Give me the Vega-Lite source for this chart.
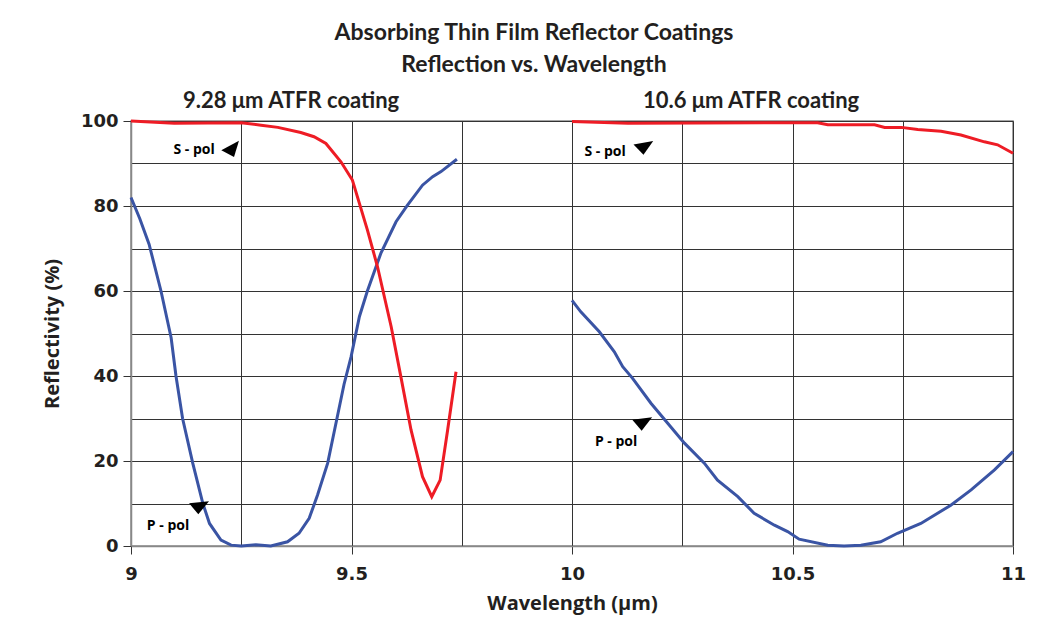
{
  "$schema": "https://vega.github.io/schema/vega-lite/v6.json",
  "width": 882,
  "height": 425,
  "padding": {"left": 42, "top": 22, "right": 28, "bottom": 10},
  "background": "white",
  "title": {
    "text": ["Absorbing Thin Film Reflector Coatings", "Reflection vs. Wavelength"],
    "font": "Lato", "fontSize": 23, "fontWeight": "bold", "lineHeight": 32,
    "anchor": "middle", "frame": "bounds", "color": "#231f20", "offset": 13
  },
  "config": {
    "view": {"stroke": "#888888", "strokeWidth": 1.5},
    "axis": {
      "labelFont": "DejaVu Sans", "labelFontWeight": "bold", "labelFontSize": 18, "labelColor": "#231f20",
      "titleFont": "Open Sans", "titleFontWeight": "bold", "titleFontSize": 20, "titleColor": "#231f20",
      "gridColor": "#333333", "gridWidth": 1, "gridOpacity": 1,
      "domainColor": "#888888", "domainWidth": 1.5,
      "tickColor": "#333333", "tickSize": 8, "tickWidth": 1
    }
  },
  "datasets": {
    "curves": [
      {"seg": "P1", "pol": "P-pol", "wl": 9.000, "r": 82},
      {"seg": "P1", "pol": "P-pol", "wl": 9.020, "r": 77},
      {"seg": "P1", "pol": "P-pol", "wl": 9.041, "r": 71},
      {"seg": "P1", "pol": "P-pol", "wl": 9.068, "r": 60},
      {"seg": "P1", "pol": "P-pol", "wl": 9.091, "r": 49},
      {"seg": "P1", "pol": "P-pol", "wl": 9.102, "r": 40},
      {"seg": "P1", "pol": "P-pol", "wl": 9.117, "r": 30},
      {"seg": "P1", "pol": "P-pol", "wl": 9.140, "r": 19.5},
      {"seg": "P1", "pol": "P-pol", "wl": 9.163, "r": 10},
      {"seg": "P1", "pol": "P-pol", "wl": 9.178, "r": 5.3},
      {"seg": "P1", "pol": "P-pol", "wl": 9.204, "r": 1.4},
      {"seg": "P1", "pol": "P-pol", "wl": 9.227, "r": 0.2},
      {"seg": "P1", "pol": "P-pol", "wl": 9.250, "r": 0},
      {"seg": "P1", "pol": "P-pol", "wl": 9.283, "r": 0.3},
      {"seg": "P1", "pol": "P-pol", "wl": 9.317, "r": 0},
      {"seg": "P1", "pol": "P-pol", "wl": 9.355, "r": 1},
      {"seg": "P1", "pol": "P-pol", "wl": 9.381, "r": 3},
      {"seg": "P1", "pol": "P-pol", "wl": 9.404, "r": 6.5},
      {"seg": "P1", "pol": "P-pol", "wl": 9.423, "r": 12},
      {"seg": "P1", "pol": "P-pol", "wl": 9.446, "r": 19.5},
      {"seg": "P1", "pol": "P-pol", "wl": 9.461, "r": 27},
      {"seg": "P1", "pol": "P-pol", "wl": 9.483, "r": 38},
      {"seg": "P1", "pol": "P-pol", "wl": 9.499, "r": 44.5},
      {"seg": "P1", "pol": "P-pol", "wl": 9.518, "r": 54},
      {"seg": "P1", "pol": "P-pol", "wl": 9.536, "r": 60},
      {"seg": "P1", "pol": "P-pol", "wl": 9.567, "r": 69},
      {"seg": "P1", "pol": "P-pol", "wl": 9.601, "r": 76.3},
      {"seg": "P1", "pol": "P-pol", "wl": 9.627, "r": 80.2},
      {"seg": "P1", "pol": "P-pol", "wl": 9.661, "r": 84.9},
      {"seg": "P1", "pol": "P-pol", "wl": 9.684, "r": 86.9},
      {"seg": "P1", "pol": "P-pol", "wl": 9.703, "r": 88.1},
      {"seg": "P1", "pol": "P-pol", "wl": 9.739, "r": 91},
      {"seg": "S1", "pol": "S-pol", "wl": 9.000, "r": 100},
      {"seg": "S1", "pol": "S-pol", "wl": 9.098, "r": 99.5},
      {"seg": "S1", "pol": "S-pol", "wl": 9.250, "r": 99.6},
      {"seg": "S1", "pol": "S-pol", "wl": 9.295, "r": 99},
      {"seg": "S1", "pol": "S-pol", "wl": 9.333, "r": 98.5},
      {"seg": "S1", "pol": "S-pol", "wl": 9.385, "r": 97.3},
      {"seg": "S1", "pol": "S-pol", "wl": 9.415, "r": 96.3},
      {"seg": "S1", "pol": "S-pol", "wl": 9.442, "r": 94.7},
      {"seg": "S1", "pol": "S-pol", "wl": 9.476, "r": 90.4},
      {"seg": "S1", "pol": "S-pol", "wl": 9.502, "r": 86.1},
      {"seg": "S1", "pol": "S-pol", "wl": 9.536, "r": 74.4},
      {"seg": "S1", "pol": "S-pol", "wl": 9.559, "r": 65.7},
      {"seg": "S1", "pol": "S-pol", "wl": 9.590, "r": 51.6},
      {"seg": "S1", "pol": "S-pol", "wl": 9.612, "r": 39.8},
      {"seg": "S1", "pol": "S-pol", "wl": 9.635, "r": 27.3},
      {"seg": "S1", "pol": "S-pol", "wl": 9.661, "r": 16.3},
      {"seg": "S1", "pol": "S-pol", "wl": 9.682, "r": 11.6},
      {"seg": "S1", "pol": "S-pol", "wl": 9.701, "r": 15.5},
      {"seg": "S1", "pol": "S-pol", "wl": 9.718, "r": 27.3},
      {"seg": "S1", "pol": "S-pol", "wl": 9.737, "r": 41},
      {"seg": "S2", "pol": "S-pol", "wl": 10.000, "r": 99.9},
      {"seg": "S2", "pol": "S-pol", "wl": 10.127, "r": 99.5},
      {"seg": "S2", "pol": "S-pol", "wl": 10.557, "r": 99.6},
      {"seg": "S2", "pol": "S-pol", "wl": 10.580, "r": 99.1},
      {"seg": "S2", "pol": "S-pol", "wl": 10.686, "r": 99.1},
      {"seg": "S2", "pol": "S-pol", "wl": 10.709, "r": 98.5},
      {"seg": "S2", "pol": "S-pol", "wl": 10.747, "r": 98.5},
      {"seg": "S2", "pol": "S-pol", "wl": 10.784, "r": 98},
      {"seg": "S2", "pol": "S-pol", "wl": 10.837, "r": 97.6},
      {"seg": "S2", "pol": "S-pol", "wl": 10.882, "r": 96.7},
      {"seg": "S2", "pol": "S-pol", "wl": 10.935, "r": 95.1},
      {"seg": "S2", "pol": "S-pol", "wl": 10.965, "r": 94.4},
      {"seg": "S2", "pol": "S-pol", "wl": 11.000, "r": 92.4},
      {"seg": "P2", "pol": "P-pol", "wl": 10.000, "r": 57.8},
      {"seg": "P2", "pol": "P-pol", "wl": 10.020, "r": 55.1},
      {"seg": "P2", "pol": "P-pol", "wl": 10.062, "r": 50.4},
      {"seg": "P2", "pol": "P-pol", "wl": 10.096, "r": 45.7},
      {"seg": "P2", "pol": "P-pol", "wl": 10.115, "r": 42.2},
      {"seg": "P2", "pol": "P-pol", "wl": 10.137, "r": 39.5},
      {"seg": "P2", "pol": "P-pol", "wl": 10.179, "r": 33.6},
      {"seg": "P2", "pol": "P-pol", "wl": 10.217, "r": 28.9},
      {"seg": "P2", "pol": "P-pol", "wl": 10.255, "r": 24.2},
      {"seg": "P2", "pol": "P-pol", "wl": 10.300, "r": 19.5},
      {"seg": "P2", "pol": "P-pol", "wl": 10.330, "r": 15.5},
      {"seg": "P2", "pol": "P-pol", "wl": 10.376, "r": 11.6},
      {"seg": "P2", "pol": "P-pol", "wl": 10.413, "r": 7.7},
      {"seg": "P2", "pol": "P-pol", "wl": 10.459, "r": 4.9},
      {"seg": "P2", "pol": "P-pol", "wl": 10.489, "r": 3.4},
      {"seg": "P2", "pol": "P-pol", "wl": 10.515, "r": 1.6},
      {"seg": "P2", "pol": "P-pol", "wl": 10.580, "r": 0.2},
      {"seg": "P2", "pol": "P-pol", "wl": 10.617, "r": 0},
      {"seg": "P2", "pol": "P-pol", "wl": 10.655, "r": 0.2},
      {"seg": "P2", "pol": "P-pol", "wl": 10.700, "r": 1},
      {"seg": "P2", "pol": "P-pol", "wl": 10.738, "r": 3},
      {"seg": "P2", "pol": "P-pol", "wl": 10.791, "r": 5.3},
      {"seg": "P2", "pol": "P-pol", "wl": 10.859, "r": 9.6},
      {"seg": "P2", "pol": "P-pol", "wl": 10.905, "r": 13.2},
      {"seg": "P2", "pol": "P-pol", "wl": 10.958, "r": 17.9},
      {"seg": "P2", "pol": "P-pol", "wl": 11.000, "r": 22.2}
    ],
    "notes": [
      {"wl": 9.143, "r": 93.2, "text": "S - pol"},
      {"wl": 9.084, "r": 4.7, "text": "P - pol"},
      {"wl": 10.075, "r": 92.8, "text": "S - pol"},
      {"wl": 10.100, "r": 24.4, "text": "P - pol"}
    ],
    "heads": [
      {"wl": 9.228, "r": 93.6, "angle": -28},
      {"wl": 9.155, "r": 9.6, "angle": -6},
      {"wl": 10.163, "r": 94.2, "angle": -10},
      {"wl": 10.160, "r": 29.3, "angle": -7}
    ],
    "subtitles": [
      {"wl": 9.363, "r": 104.6, "text": "9.28 μm ATFR coating"},
      {"wl": 10.406, "r": 104.6, "text": "10.6 μm ATFR coating"}
    ]
  },
  "layer": [
    {
      "data": {"name": "curves"},
      "mark": {"type": "line", "strokeWidth": 3, "clip": false},
      "encoding": {
        "x": {
          "field": "wl", "type": "quantitative",
          "scale": {"domain": [9, 11], "nice": false, "zero": false},
          "axis": {
            "title": "Wavelength (μm)",
            "values": [9, 9.25, 9.5, 9.75, 10, 10.25, 10.5, 10.75, 11],
            "labelExpr": "(datum.value * 2) % 1 === 0 ? format(datum.value, '~g') : ''",
            "tickOpacity": {"condition": {"test": "(datum.value * 2) % 1 === 0", "value": 1}, "value": 0},
            "labelPadding": 11, "titlePadding": 10, "labelFlush": false
          }
        },
        "y": {
          "field": "r", "type": "quantitative",
          "scale": {"domain": [0, 100], "nice": false},
          "axis": {
            "title": "Reflectivity (%)",
            "values": [0, 10, 20, 30, 40, 50, 60, 70, 80, 90, 100],
            "labelExpr": "datum.value % 20 === 0 ? datum.label : ''",
            "tickOpacity": {"condition": {"test": "datum.value % 20 === 0", "value": 1}, "value": 0},
            "labelPadding": 5, "titlePadding": 18
          }
        },
        "color": {
          "field": "pol", "type": "nominal",
          "scale": {"domain": ["S-pol", "P-pol"], "range": ["#ee1c25", "#3a54a4"]},
          "legend": null
        },
        "detail": {"field": "seg"},
        "order": {"field": "wl", "type": "quantitative"}
      }
    },
    {
      "data": {"name": "notes"},
      "mark": {"type": "text", "font": "Open Sans", "fontWeight": "bold", "fontSize": 14, "color": "#000000", "align": "center", "baseline": "middle"},
      "encoding": {
        "x": {"field": "wl", "type": "quantitative"},
        "y": {"field": "r", "type": "quantitative"},
        "text": {"field": "text"}
      }
    },
    {
      "data": {"name": "heads"},
      "mark": {"type": "point", "filled": true, "color": "#000000", "opacity": 1, "size": 400, "shape": "M -1 -0.3 L 1 -0.3 L -0.2 0.9 Z"},
      "encoding": {
        "x": {"field": "wl", "type": "quantitative"},
        "y": {"field": "r", "type": "quantitative"},
        "angle": {"field": "angle", "type": "quantitative", "scale": null}
      }
    },
    {
      "data": {"name": "subtitles"},
      "mark": {"type": "text", "font": "Lato", "fontWeight": "bold", "fontSize": 22, "color": "#231f20", "align": "center", "baseline": "middle"},
      "encoding": {
        "x": {"field": "wl", "type": "quantitative"},
        "y": {"field": "r", "type": "quantitative"},
        "text": {"field": "text"}
      }
    }
  ]
}
